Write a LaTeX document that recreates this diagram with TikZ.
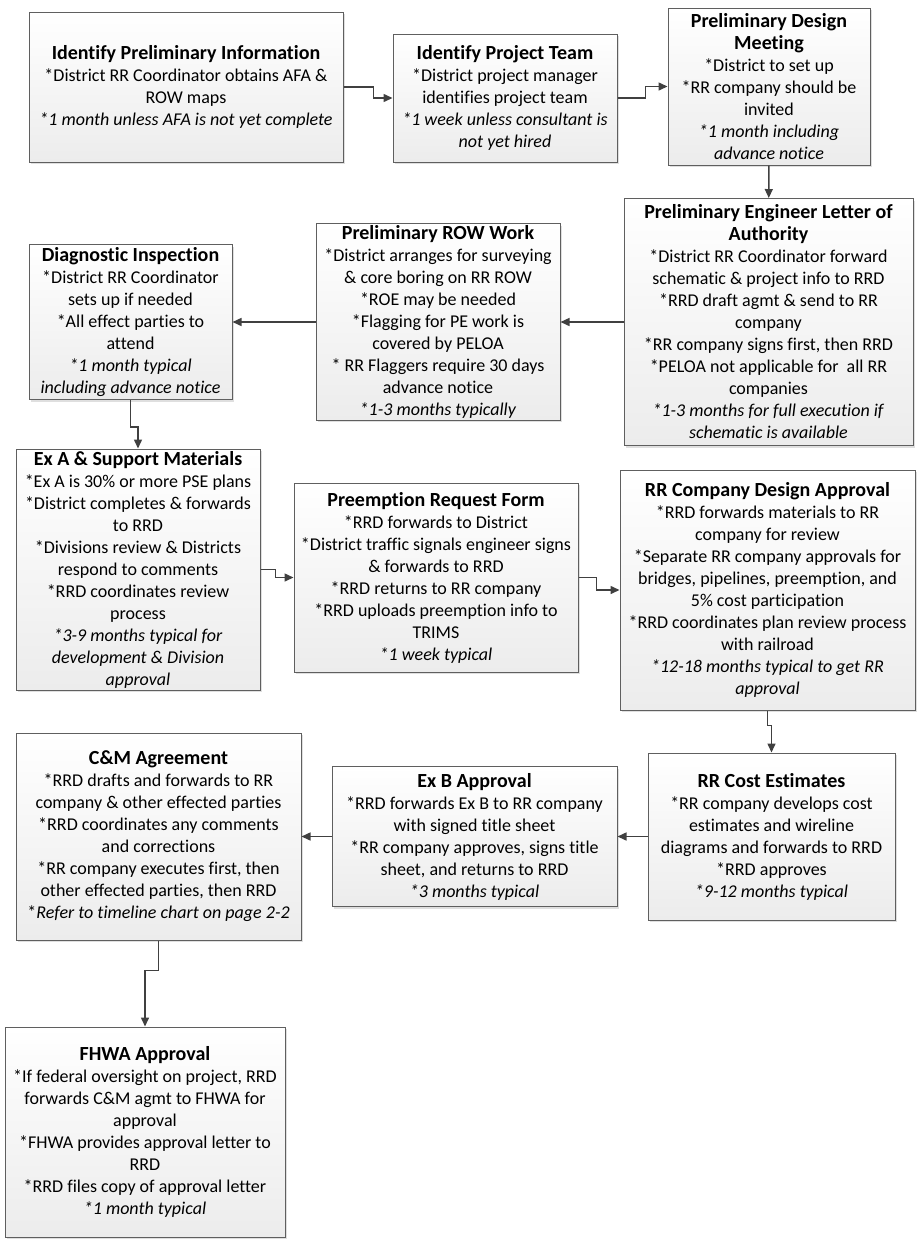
\documentclass[tikz,border=0pt]{standalone}
\usepackage{fontspec}
\setmainfont{Carlito}[Ligatures=NoCommon]
\usepackage{xcolor}
\usepackage{tikz}
\usetikzlibrary{shadows}
\usetikzlibrary{arrows.meta}
\definecolor{boxLine}{RGB}{95,95,95}
\definecolor{boxBottom}{RGB}{236,236,236}
\definecolor{flowLine}{RGB}{64,64,64}
\newcommand{\ttl}[1]{{\fontsize{20}{24}\selectfont\bfseries #1}}
\newcommand{\est}[1]{\textit{#1}}

\begin{document}
\begin{tikzpicture}[x=1pt,y=1pt,
    proc/.style={draw=boxLine, line width=1pt, top color=white, bottom color=boxBottom,
        drop shadow={shadow xshift=2pt, shadow yshift=-2pt, fill=black!25},
        align=center, inner sep=2pt, font=\fontsize{18}{22}\selectfont},
    flow/.style={draw=flowLine, line width=1.5pt, -{Triangle[length=9pt,width=8pt]}}]
    \useasboundingbox (0,0) rectangle (923,-1240);

    % draw boxes, first row
    \node[proc, minimum width=314pt, minimum height=150pt] (info) at (186,-87)
        {\ttl{Identify Preliminary Information}\\*District RR Coordinator obtains AFA \&\\ROW maps\\
         \est{*1 month unless AFA is not yet complete}};
    \node[proc, minimum width=224pt, minimum height=128pt] (team) at (505,-98)
        {\ttl{Identify Project Team}\\*District project manager\\identifies project team\\
         \est{*1 week unless consultant is}\\\est{not yet hired}};
    \node[proc, minimum width=202pt, minimum height=157pt] (meet) at (769,-86.5)
        {\ttl{Preliminary Design}\\\ttl{Meeting}\\*District to set up\\*RR company should be\\invited\\
         \est{*1 month including}\\\est{advance notice}};

    % draw boxes, second row
    \node[proc, minimum width=289pt, minimum height=247pt] (peloa) at (768.5,-322)
        {\ttl{Preliminary Engineer Letter of}\\\ttl{Authority}\\*District RR Coordinator forward\\
         schematic \& project info to RRD\\*RRD draft agmt \& send to RR\\company\\
         *RR company signs first, then RRD\\*PELOA not applicable for\ \ all RR\\companies\\
         \est{*1-3 months for full execution if}\\\est{schematic is available}};
    \node[proc, minimum width=244pt, minimum height=195pt] (row) at (438,-322)
        {\ttl{Preliminary ROW Work}\\*District arranges for surveying\\\& core boring on RR ROW\\
         *ROE may be needed\\*Flagging for PE work is\\covered by PELOA\\
         * RR Flaggers require 30 days\\advance notice\\\est{*1-3 months typically}};
    \node[proc, minimum width=203pt, minimum height=155pt] (diag) at (130.5,-322)
        {\ttl{Diagnostic Inspection}\\*District RR Coordinator\\sets up if needed\\
         *All effect parties to\\attend\\\est{*1 month typical}\\\est{including advance notice}};

    % draw boxes, third row
    \node[proc, minimum width=244pt, minimum height=241pt] (exA) at (138,-569.5)
        {\ttl{Ex A \& Support Materials}\\*Ex A is 30\% or more PSE plans\\
         *District completes \& forwards\\to RRD\\*Divisions review \& Districts\\
         respond to comments\\*RRD coordinates review\\process\\
         \est{*3-9 months typical for}\\\est{development \& Division}\\\est{approval}};
    \node[proc, minimum width=284pt, minimum height=189pt] (preempt) at (436,-577.5)
        {\ttl{Preemption Request Form}\\*RRD forwards to District\\
         *District traffic signals engineer signs\\\& forwards to RRD\\
         *RRD returns to RR company\\*RRD uploads preemption info to\\TRIMS\\
         \est{*1 week typical}};
    \node[proc, minimum width=295pt, minimum height=240pt] (design) at (767.5,-590)
        {\ttl{RR Company Design Approval}\\*RRD forwards materials to RR\\company for review\\
         *Separate RR company approvals for\\bridges, pipelines, preemption, and\\
         5\% cost participation\\*RRD coordinates plan review process\\with railroad\\
         \est{*12-18 months typical to get RR}\\\est{approval}};

    % draw boxes, fourth row
    \node[proc, minimum width=247pt, minimum height=167pt] (cost) at (771.5,-836.5)
        {\ttl{RR Cost Estimates}\\*RR company develops cost\\estimates and wireline\\
         diagrams and forwards to RRD\\*RRD approves\\\est{*9-12 months typical}};
    \node[proc, minimum width=285pt, minimum height=140pt] (exB) at (474.5,-836.5)
        {\ttl{Ex B Approval}\\*RRD forwards Ex B to RR company\\with signed title sheet\\
         *RR company approves, signs title\\sheet, and returns to RRD\\\est{*3 months typical}};
    \node[proc, minimum width=285pt, minimum height=207pt] (cm) at (158.5,-836.5)
        {\ttl{C\&M Agreement}\\*RRD drafts and forwards to RR\\company \& other effected parties\\
         *RRD coordinates any comments\\and corrections\\*RR company executes first, then\\
         other effected parties, then RRD\\*\est{Refer to timeline chart on page 2-2}};

    % draw last box
    \node[proc, minimum width=280pt, minimum height=210pt] (fhwa) at (145,-1132)
        {\ttl{FHWA Approval}\\*If federal oversight on project, RRD\\forwards C\&M agmt to FHWA for\\
         approval\\*FHWA provides approval letter to\\RRD\\*RRD files copy of approval letter\\
         \est{*1 month typical}};

    % draw arrows
    \draw[flow] (info.east) -- ++(30,0) |- (team.west);
    \draw[flow] (team.east) -- ++(28,0) |- (meet.west);
    \draw[flow] (meet) -- (peloa);
    \draw[flow] (peloa) -- (row);
    \draw[flow] (row) -- (diag);
    \draw[flow] (diag.south) -- ++(0,-27) -| (exA.north);
    \draw[flow] (exA.east) -- ++(15,0) |- (preempt.west);
    \draw[flow] (preempt.east) -- ++(18,0) |- (design.west);
    \draw[flow] (design.south) -- ++(0,-15) -| (cost.north);
    \draw[flow] (cost) -- (exB);
    \draw[flow] (exB) -- (cm);
    \draw[flow] (cm.south) -- ++(0,-30) -| (fhwa.north);
\end{tikzpicture}
\end{document}
